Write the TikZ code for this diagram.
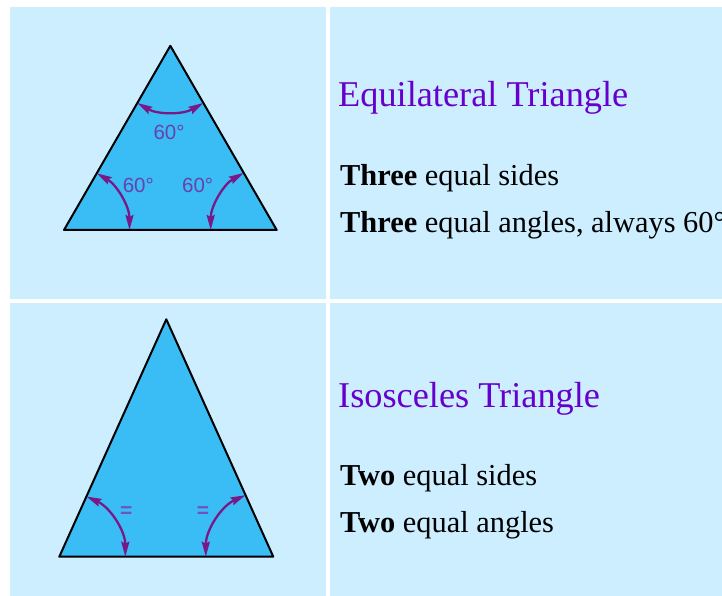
\documentclass[tikz,border=0pt]{standalone}
\usepackage{fontspec}
\setmainfont{Liberation Serif}
\newfontfamily\lblfont{Liberation Sans}
\usetikzlibrary{arrows.meta}
\definecolor{cellbg}{RGB}{204,238,255}
\definecolor{trifill}{RGB}{58,189,245}
\definecolor{arcpurple}{RGB}{120,25,135}
\definecolor{lblpurple}{RGB}{105,65,170}
\definecolor{eqpurple}{RGB}{110,85,190}
\definecolor{titlepurple}{RGB}{102,0,204}
\begin{document}
\begin{tikzpicture}[x=1pt,y=1pt,
  cell/.style={fill=cellbg,draw=none},
  tri/.style={fill=trifill,draw=black,line width=2pt,line join=round},
  anglearc/.style={draw=arcpurple,line width=2.3pt,{Stealth[length=15pt,width=8pt,inset=2pt]}-{Stealth[length=15pt,width=8pt,inset=2pt]}},
  anglelbl/.style={text=lblpurple,font=\lblfont\fontsize{20.5}{24}\selectfont,inner sep=0},
  eqlbl/.style={text=eqpurple,font=\lblfont\bfseries\fontsize{21}{24}\selectfont,inner sep=0},
  titletext/.style={anchor=base west,inner sep=0,text=titlepurple,font=\fontsize{36.3}{40}\selectfont},
  bodytext/.style={anchor=base west,inner sep=0,text=black,font=\fontsize{30.4}{34}\selectfont}]
\useasboundingbox (0,0) rectangle (722,596);
\clip (0,0) rectangle (722,596);
\fill[white] (0,0) rectangle (722,596);
% table cells
\path[cell] (10,297) rectangle (325.7,589.3);
\path[cell] (330,297) rectangle (722,589.3);
\path[cell] (10,0) rectangle (325.7,293.3);
\path[cell] (330,0) rectangle (722,293.3);
% equilateral triangle
\coordinate (EA) at (170.35,550.2);
\coordinate (EL) at (64,366);
\coordinate (ER) at (276.7,366);
\draw[tri] (EA) -- (EL) -- (ER) -- cycle;
\draw[anglearc] ([shift={(240:66)}]EA) arc[start angle=240,end angle=300,radius=66];
\draw[anglearc] ([shift={(0:65.5)}]EL) arc[start angle=0,end angle=60,radius=65.5];
\draw[anglearc] ([shift={(180:66)}]ER) arc[start angle=180,end angle=120,radius=66];
\node[anglelbl] (ltop) at (169,464) {60°};
\node[anglelbl] (lleft) at (138.3,410.3) {60°};
\node[anglelbl] (lright) at (197.7,410.3) {60°};
% isosceles triangle
\coordinate (IA) at (166.3,276.7);
\coordinate (IL) at (59.3,39.3);
\coordinate (IR) at (273.3,39.3);
\draw[tri] (IA) -- (IL) -- (IR) -- cycle;
\draw[anglearc] ([shift={(0:66)}]IL) arc[start angle=0,end angle=65.74,radius=66];
\draw[anglearc] ([shift={(180:67.5)}]IR) arc[start angle=180,end angle=114.26,radius=67.5];
\node[eqlbl] (eleft) at (126.2,84) {=};
\node[eqlbl] (eright) at (203,84.3) {=};
% texts
\node[titletext] (t1) at (338,489.3) {Equilateral Triangle};
\node[bodytext] (s1) at (340,410) {\textbf{Three} equal sides};
\node[bodytext] (s2) at (340,363.3) {\textbf{Three} equal angles, always 60°};
\node[titletext] (t2) at (338,188.7) {Isosceles Triangle};
\node[bodytext] (s3) at (340,110) {\textbf{Two} equal sides};
\node[bodytext] (s4) at (340,63.3) {\textbf{Two} equal angles};
\end{tikzpicture}
\end{document}
